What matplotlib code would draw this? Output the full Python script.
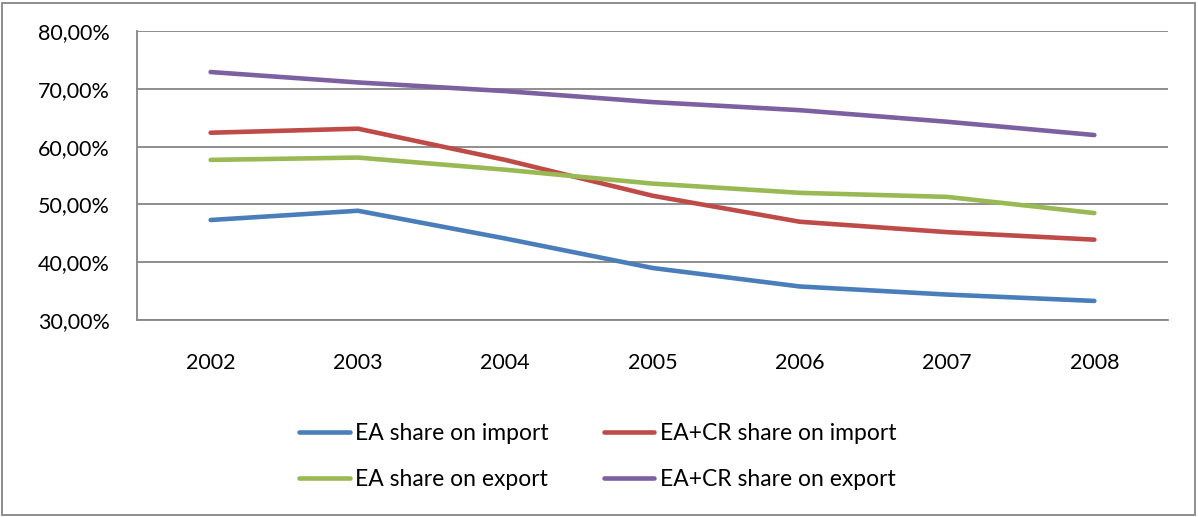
# EA and EA+CR shares on import and export, 2002-2008

import matplotlib.pyplot as plt
from matplotlib.patches import Rectangle
from matplotlib.ticker import FuncFormatter

plt.rcParams['font.family'] = ['Lato', 'DejaVu Sans']

years = ['2002', '2003', '2004', '2005', '2006', '2007', '2008']

ea_import = [47.3, 48.9, 44.1, 39.0, 35.8, 34.4, 33.3]
eacr_import = [62.4, 63.1, 57.7, 51.5, 47.0, 45.2, 43.9]
ea_export = [57.7, 58.1, 56.0, 53.6, 52.0, 51.3, 48.5]
eacr_export = [72.9, 71.1, 69.6, 67.7, 66.3, 64.3, 62.0]

fig = plt.figure(figsize=(11.98, 5.17), dpi=100)
ax = fig.add_axes([137/1198, 197/517, 1031/1198, 289/517])

x = range(len(years))
kw = dict(lw=3.3, solid_capstyle='round', solid_joinstyle='round')
l1, = ax.plot(x, ea_import, color='#4A7EBB', label='EA share on import', **kw)
l2, = ax.plot(x, eacr_import, color='#BE4B48', label='EA+CR share on import', **kw)
l3, = ax.plot(x, ea_export, color='#98B954', label='EA share on export', **kw)
l4, = ax.plot(x, eacr_export, color='#7D60A0', label='EA+CR share on export', **kw)

ax.set_xlim(-0.5, len(years) - 0.5)
ax.set_ylim(30, 80)
ax.set_yticks(range(30, 81, 10))
ax.yaxis.set_major_formatter(FuncFormatter(lambda v, p: f'{v:.2f}%'.replace('.', ',')))
ax.set_xticks(list(x))
ax.set_xticklabels(years)
ax.tick_params(axis='y', length=0, pad=19.5, labelsize=15.5)
ax.tick_params(axis='x', length=0, pad=24, labelsize=15.5)

ax.grid(axis='y', color='#868686', lw=1.3)
ax.set_axisbelow(True)
for side in ['top', 'right']:
    ax.spines[side].set_visible(False)
for side in ['left', 'bottom']:
    ax.spines[side].set_color('#868686')
    ax.spines[side].set_linewidth(1.3)

# legend is filled column by column, so order the handles for two rows
handles = [l1, l3, l2, l4]
fig.legend(handles, [h.get_label() for h in handles],
           loc='center', bbox_to_anchor=(0.499, 0.117), ncol=2, frameon=False,
           fontsize=16.5, handlelength=2.2, handletextpad=0.25,
           columnspacing=2.4, labelspacing=1.1)

# outer chart border
fig.patches.append(Rectangle((2/1198, 2/517), 1193/1198, 512/517,
                             transform=fig.transFigure, fill=False,
                             edgecolor='#868686', lw=1.3))

fig.savefig('out.png', dpi=100)
